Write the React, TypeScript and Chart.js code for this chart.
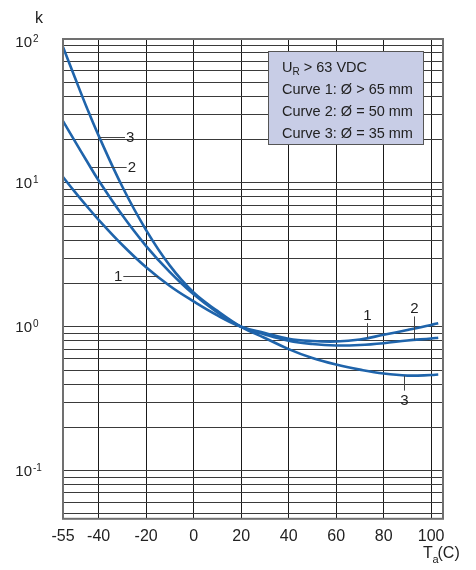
import React, { useEffect, useRef } from 'react';
import { Chart, registerables } from 'chart.js';

Chart.register(...registerables);

// ---- data ----
const temperatures = [-55, -50, -45, -40, -30, -20, -10, 0, 10, 20, 30, 40, 50, 60, 70, 80, 90, 100, 103];
const curve1 = [11.0, 8.66, 6.89, 5.54, 3.70, 2.59, 1.92, 1.50, 1.20, 1.0, 0.905, 0.825, 0.796, 0.790, 0.816, 0.88, 0.95, 1.03, 1.06];
const curve2 = [26.9, 19.5, 14.2, 10.4, 5.95, 3.64, 2.40, 1.68, 1.26, 1.0, 0.884, 0.80, 0.759, 0.741, 0.747, 0.769, 0.803, 0.829, 0.840];
const curve3 = [88, 54, 33.4, 21.3, 9.4, 4.70, 2.66, 1.73, 1.29, 1.0, 0.836, 0.70, 0.606, 0.546, 0.504, 0.473, 0.458, 0.462, 0.466];

const xTickValues = [-55, -40, -20, 0, 20, 40, 60, 80, 100];
const xMin = -55;
const xMax = 105;
const yMin = 0.0463;
const yMax = 100;
const yDecades = [-1, 0, 1, 2];

const legendLines = ['Curve 1: Ø > 65 mm', 'Curve 2: Ø = 50 mm', 'Curve 3: Ø = 35 mm'];
const voltageText = '> 63 VDC';

// curve labels: leader lines in data coordinates
const leftLabels = [
  { text: '3', t1: -39.4, t2: -28.9, k: 20.9, side: 'right' },
  { text: '2', t1: -42.9, t2: -28.2, k: 12.9, side: 'right' },
  { text: '1', t1: -29.6, t2: -14.9, k: 2.24, side: 'left' },
];
const rightLabels = [
  { text: '1', t: 73.1, k1: 1.06, k2: 0.84, side: 'top' },
  { text: '2', t: 92.9, k1: 1.18, k2: 0.812, side: 'top' },
  { text: '3', t: 88.6, k1: 0.456, k2: 0.36, side: 'bottom' },
];

const FONT = '"Liberation Sans", Arial, Helvetica, sans-serif';
const CURVE_COLOR = '#1f64ab';
const TEXT_COLOR = '#222';

const overlayPlugin = {
  id: 'overlay',
  afterDraw(chart: any) {
    const { ctx, chartArea, scales } = chart;
    const xs = scales.x;
    const ys = scales.y;
    ctx.save();

    // frame
    ctx.strokeStyle = '#707070';
    ctx.lineWidth = 2;
    ctx.strokeRect(chartArea.left, chartArea.top, chartArea.right - chartArea.left, chartArea.bottom - chartArea.top);

    // y tick labels 10^n
    ctx.fillStyle = TEXT_COLOR;
    yDecades.forEach((e) => {
      let py = ys.getPixelForValue(Math.pow(10, e));
      py = Math.max(py, chartArea.top + 3);
      ctx.font = `15px ${FONT}`;
      ctx.textAlign = 'right';
      ctx.textBaseline = 'alphabetic';
      ctx.fillText('10', chartArea.left - 31, py + 5.4);
      ctx.font = `10px ${FONT}`;
      ctx.textAlign = 'left';
      ctx.fillText(String(e), chartArea.left - 30, py);
    });

    // axis titles
    ctx.font = `16px ${FONT}`;
    ctx.textAlign = 'center';
    ctx.textBaseline = 'alphabetic';
    ctx.fillText('k', 39, 23);

    ctx.textAlign = 'left';
    ctx.font = `16px ${FONT}`;
    ctx.fillText('T', 423, 557.5);
    ctx.font = `11px ${FONT}`;
    ctx.fillText('a', 432.5, 563);
    ctx.font = `16px ${FONT}`;
    ctx.fillText('(C)', 437.5, 557.5);

    // legend box
    ctx.fillStyle = 'rgb(200,205,230)';
    ctx.fillRect(268.5, 51.5, 155, 93);
    ctx.strokeStyle = '#555';
    ctx.lineWidth = 1;
    ctx.strokeRect(268.5, 51.5, 155, 93);
    ctx.fillStyle = TEXT_COLOR;
    ctx.font = `14.5px ${FONT}`;
    ctx.textAlign = 'left';
    ctx.textBaseline = 'alphabetic';
    ctx.fillText('U', 282, 72.2);
    const uw = ctx.measureText('U').width;
    ctx.font = `10px ${FONT}`;
    ctx.fillText('R', 282 + uw, 75);
    const rw = ctx.measureText('R').width;
    ctx.font = `14.5px ${FONT}`;
    ctx.fillText(' ' + voltageText, 282 + uw + rw, 72.2);
    legendLines.forEach((line, i) => {
      ctx.fillText(line, 282, 94.2 + i * 21.7);
    });

    // curve labels
    ctx.strokeStyle = '#444';
    ctx.lineWidth = 1;
    ctx.font = `15px ${FONT}`;
    ctx.fillStyle = TEXT_COLOR;
    leftLabels.forEach((l) => {
      const x1 = xs.getPixelForValue(l.t1);
      const x2 = xs.getPixelForValue(l.t2);
      const y = Math.round(ys.getPixelForValue(l.k)) + 0.5;
      ctx.beginPath();
      ctx.moveTo(x1, y);
      ctx.lineTo(x2, y);
      ctx.stroke();
      ctx.textBaseline = 'middle';
      if (l.side === 'right') {
        ctx.textAlign = 'left';
        ctx.fillText(l.text, x2 + 1, y);
      } else {
        ctx.textAlign = 'right';
        ctx.fillText(l.text, x1 - 1, y);
      }
    });
    rightLabels.forEach((l) => {
      const x = Math.round(xs.getPixelForValue(l.t)) + 0.5;
      const y1 = ys.getPixelForValue(l.k1);
      const y2 = ys.getPixelForValue(l.k2);
      ctx.beginPath();
      ctx.moveTo(x, y1);
      ctx.lineTo(x, y2);
      ctx.stroke();
      ctx.textAlign = 'center';
      ctx.textBaseline = 'alphabetic';
      if (l.side === 'top') {
        ctx.fillText(l.text, x, y1 - 3);
      } else {
        ctx.fillText(l.text, x, y2 + 14);
      }
    });

    ctx.restore();
  },
};

function buildLogTicks(scale: any) {
  const ticks: { value: number }[] = [];
  for (let e = -2; e <= 2; e++) {
    for (let s = 1; s <= 9; s++) {
      const v = Number((s * Math.pow(10, e)).toPrecision(3));
      if (v >= yMin && v <= yMax) ticks.push({ value: v });
    }
  }
  scale.ticks = ticks;
}

export default function App() {
  const canvasRef = useRef<HTMLCanvasElement | null>(null);

  useEffect(() => {
    if (!canvasRef.current) return;
    const mk = (label: string, values: number[]) => ({
      label,
      data: temperatures.map((t, i) => ({ x: t, y: values[i] })),
      borderColor: CURVE_COLOR,
      borderWidth: 2.6,
      pointRadius: 0,
      fill: false,
      tension: 0.4,
    });
    const chart = new Chart(canvasRef.current, {
      type: 'line',
      data: {
        datasets: [mk('Curve 1', curve1), mk('Curve 2', curve2), mk('Curve 3', curve3)],
      },
      options: {
        animation: false,
        responsive: false,
        layout: { padding: { left: 63, top: 39, right: 33, bottom: 16 } },
        plugins: { legend: { display: false }, tooltip: { enabled: false } },
        scales: {
          x: {
            type: 'linear',
            min: xMin,
            max: xMax,
            afterBuildTicks: (scale: any) => {
              scale.ticks = xTickValues.map((v) => ({ value: v }));
            },
            grid: { color: '#1a1a1a', lineWidth: 1, drawTicks: false },
            border: { display: false },
            ticks: {
              autoSkip: false,
              maxRotation: 0,
              padding: 8,
              color: TEXT_COLOR,
              font: { family: FONT, size: 16 },
              callback: (v: any) => String(v),
            },
          },
          y: {
            type: 'logarithmic',
            min: yMin,
            max: yMax,
            afterBuildTicks: buildLogTicks,
            grid: { color: '#3a3a3a', lineWidth: 1, drawTicks: false },
            border: { display: false },
            ticks: { display: false },
          },
        },
      },
      plugins: [overlayPlugin],
    });
    return () => chart.destroy();
  }, []);

  return (
    <div style={{ position: 'fixed', left: 0, top: 0, width: 476, height: 570, background: '#fff' }}>
      <canvas ref={canvasRef} width={476} height={570} style={{ display: 'block' }} />
    </div>
  );
}
